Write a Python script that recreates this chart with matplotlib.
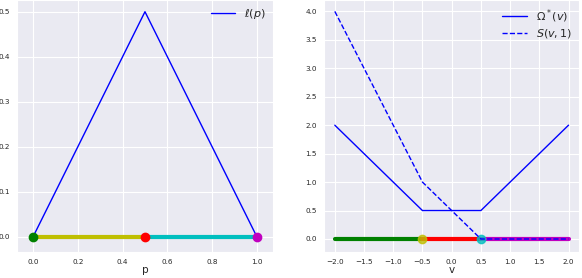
import matplotlib
matplotlib.use("Agg")
import matplotlib.pyplot as plt
import seaborn as sns

# left panel: loss l(p)
p_vals = [0.0, 0.5, 1.0]
ell_vals = [0.0, 0.5, 0.0]
p_segments = [(0.0, 0.5, "y"), (0.5, 1.0, "c")]
p_points = [(0.0, "g"), (0.5, "r"), (1.0, "m")]

# right panel: Omega*(v) and S(v, 1)
v_vals = [-2.0, -0.5, 0.5, 2.0]
omega_vals = [2.0, 0.5, 0.5, 2.0]
s_vals = [4.0, 1.0, 0.0, 0.0]
v_segments = [(-2.0, -0.5, "g"), (-0.5, 0.5, "r"), (0.5, 2.0, "m")]
v_points = [(-0.5, "y"), (0.5, "c")]

sns.set_style("darkgrid")
plt.rcParams["font.family"] = ["DejaVu Sans"]

fig = plt.figure(figsize=(5.82, 2.78), dpi=100)
ax1 = fig.add_axes([0.0297, 0.0924, 0.4388, 0.9076])
ax2 = fig.add_axes([0.5562, 0.0924, 0.4387, 0.9076])

ax1.plot(p_vals, ell_vals, color="b", lw=1.0, label=r"$\ell(p)$")
for a, b, c in p_segments:
    ax1.plot([a, b], [0, 0], color=c, lw=3.0)
for x, c in p_points:
    ax1.plot([x], [0], "o", color=c, ms=6)
ax1.set_xlim(-0.07, 1.07)
ax1.set_ylim(-0.034, 0.526)
ax1.set_xticks([0.0, 0.2, 0.4, 0.6, 0.8, 1.0])
ax1.set_yticks([0.0, 0.1, 0.2, 0.3, 0.4, 0.5])
ax1.set_xlabel("p", fontsize=7.5, labelpad=0)
ax1.legend(loc="upper right", fontsize=8, frameon=False, labelspacing=0.2,
           handlelength=2.2, borderaxespad=0.25)

ax2.plot(v_vals, omega_vals, color="b", lw=1.0, label=r"$\Omega^*(v)$")
for a, b, c in v_segments:
    ax2.plot([a, b], [0, 0], color=c, lw=3.0)
for x, c in v_points:
    ax2.plot([x], [0], "o", color=c, ms=6, alpha=0.8)
ax2.plot(v_vals, s_vals, color="b", lw=1.0, ls="--", label=r"$S(v,1)$")
ax2.set_xlim(-2.19, 2.18)
ax2.set_ylim(-0.234, 4.2)
ax2.set_xticks([-2.0, -1.5, -1.0, -0.5, 0.0, 0.5, 1.0, 1.5, 2.0])
ax2.set_yticks([0.0, 0.5, 1.0, 1.5, 2.0, 2.5, 3.0, 3.5, 4.0])
ax2.set_xlabel("v", fontsize=7.5, labelpad=0)
ax2.legend(loc="upper right", fontsize=8, frameon=False, labelspacing=0.2,
           handlelength=2.2, borderaxespad=0.25)

for ax in (ax1, ax2):
    ax.tick_params(labelsize=5.2, pad=1.5)

fig.savefig("out.png", dpi=100)
